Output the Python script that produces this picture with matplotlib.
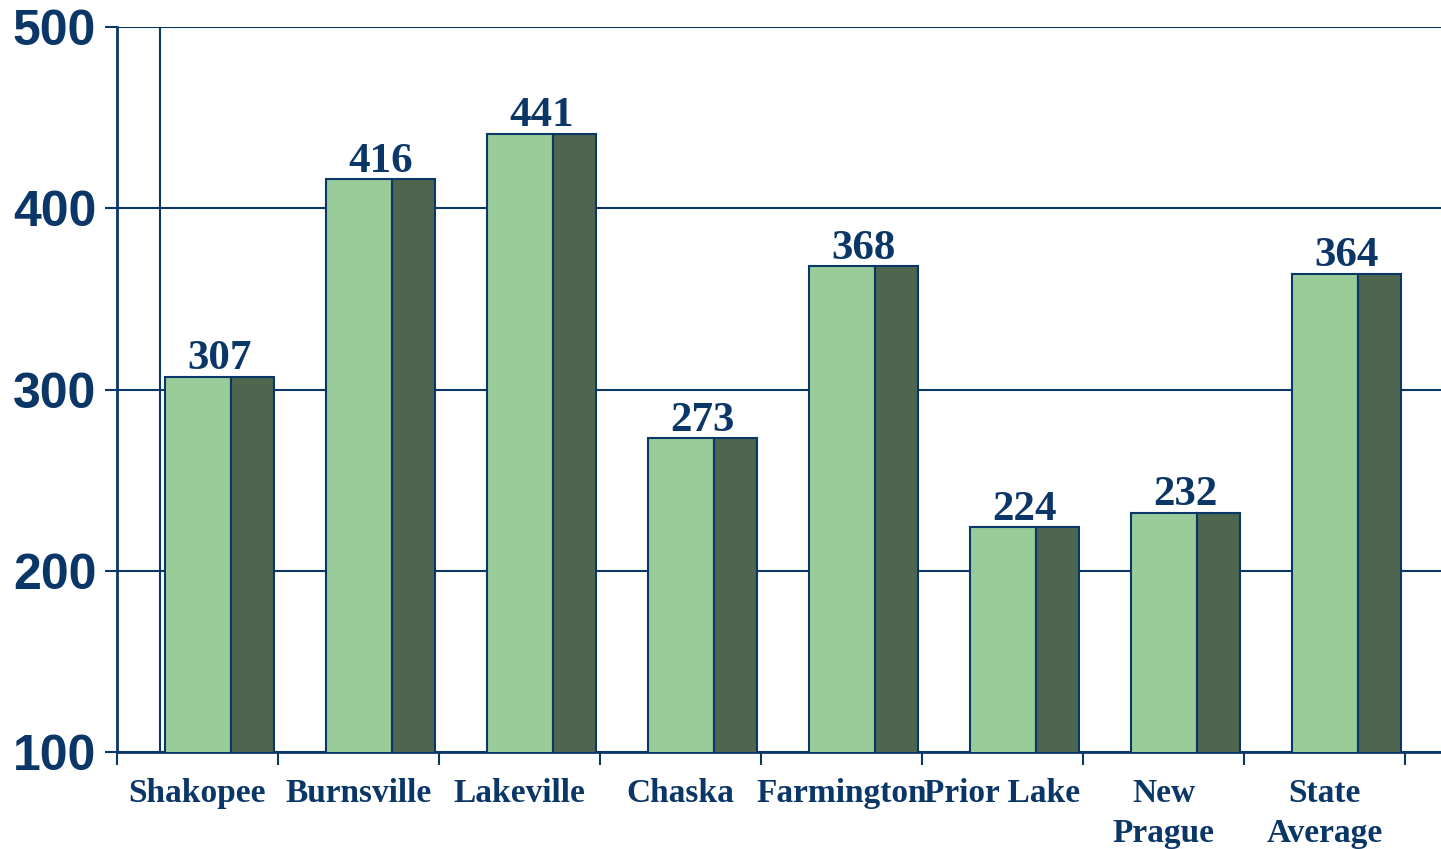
import matplotlib.pyplot as plt
import numpy as np

cities = ['Shakopee', 'Burnsville', 'Lakeville', 'Chaska', 'Farmington',
          'Prior Lake', 'New\nPrague', 'State\nAverage']
values = [307, 416, 441, 273, 368, 224, 232, 364]
y_ticks = [100, 200, 300, 400, 500]

navy = '#0b3768'
light = '#99cc99'
dark = '#4d664d'

fig = plt.figure(figsize=(14.41, 8.49), dpi=100)
ax = fig.add_axes([117 / 1441, 1 - 752 / 849, 1 - 117 / 1441, (752 - 27) / 849])

x = np.arange(len(cities))
# front face and side face of each pseudo-3D bar
ax.bar(x + 0.30, values, width=0.405, align='edge', color=light,
       edgecolor=navy, linewidth=1.5, zorder=3)
ax.bar(x + 0.705, values, width=0.27, align='edge', color=dark,
       edgecolor=navy, linewidth=1.5, zorder=3)

for i, v in enumerate(values):
    ax.annotate(str(v), (i + 0.637, v), xytext=(0, -1),
                textcoords='offset points', ha='center', va='bottom',
                fontsize=31, fontweight='bold', family='Liberation Serif',
                color=navy, zorder=4)

ax.set_xlim(0, 1324 / 161)
ax.set_ylim(100, 500)
ax.axvline(43 / 161, color=navy, linewidth=1.5, zorder=2)

ax.set_yticks(y_ticks)
ax.set_yticklabels([str(t) for t in y_ticks], fontsize=36, fontweight='bold',
                   family='Liberation Sans', color=navy)
ax.grid(axis='y', color=navy, linewidth=1.5, zorder=1)
ax.set_axisbelow(True)

ax.set_xticks(np.arange(len(cities) + 1))
ax.set_xticklabels([])
ax.set_xticks(x + 0.5, minor=True)
ax.set_xticklabels(cities, minor=True, fontsize=24, fontweight='bold',
                   family='Liberation Serif', color=navy, linespacing=1.37,
                   va='top')

ax.tick_params(axis='both', which='major', direction='out', length=9,
               width=1.5, color=navy)
ax.tick_params(axis='y', pad=6)
ax.tick_params(axis='x', which='minor', length=0, pad=19)

for s in ['top', 'right']:
    ax.spines[s].set_visible(False)
for s in ['left', 'bottom']:
    ax.spines[s].set_color(navy)
    ax.spines[s].set_linewidth(2)

plt.savefig('out.png', dpi=100)
